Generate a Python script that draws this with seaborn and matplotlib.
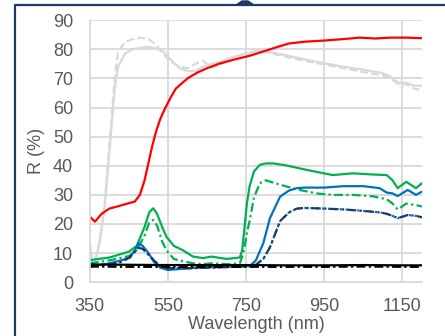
import matplotlib
matplotlib.use("Agg")
import numpy as np
import pandas as pd
import seaborn as sns
import matplotlib.pyplot as plt
from matplotlib.lines import Line2D
from matplotlib.patches import Polygon

# reflectance spectra
wl_gray = [350, 356, 365, 375, 388, 401, 414, 422, 440, 460, 480, 500, 520, 540, 560, 580, 600, 620,
           640, 650, 660, 680, 700, 720, 750, 780, 800, 850, 900, 950, 1000, 1050, 1100, 1120, 1140,
           1160, 1180, 1200]
gray_solid = [13, 7, 8, 14, 26, 46.5, 67, 74, 78.6, 80, 80.5, 80.8, 80.3, 79, 76, 73.5, 72.5, 72.5,
              74, 74.5, 75, 75.5, 76.5, 77.5, 78.5, 79.5, 79.3, 78, 76.5, 75.2, 74, 73, 71.8, 70.5, 68.5,
              68.5, 67.5, 67.5]
gray_dash = [13, 7, 8, 14, 27, 49, 71, 79, 82.5, 83.5, 84, 83.5, 81.5, 78, 75.5, 74, 73.5, 75,
             76, 75, 73.5, 74.5, 76, 77.5, 78.5, 79.5, 79, 77.5, 76, 74.8, 73.5, 72.2, 71, 70, 68,
             68, 66.5, 66]

wl_red = [350, 363, 380, 400, 420, 440, 465, 478, 490, 500, 510, 520, 530, 540, 555, 570,
          600, 625, 650, 680, 720, 760, 800, 830, 860, 900, 950, 1000, 1040, 1080, 1120, 1160, 1200]
red = [22.5, 20.8, 23.5, 25.3, 26, 26.8, 27.7, 30, 35, 41, 47, 52, 56, 59, 63, 66.5,
       70, 72, 73.5, 75, 76.5, 77.8, 79.5, 80.8, 82, 82.6, 83, 83.5, 84, 83.7, 84, 84, 83.8]

wl_green = [350, 400, 450, 470, 490, 502, 512, 522, 535, 546, 565, 588, 614, 640, 661, 700, 734, 740, 746,
            752, 759, 770, 785, 800, 820, 850, 887, 930, 972, 1023, 1074, 1110, 1125, 1138, 1160,
            1185, 1200]
green_solid = [7.6, 8.5, 10.5, 12.5, 19, 24, 25.4, 23.5, 19, 15.6, 12.5, 11, 8.8, 8.3, 8.8, 8, 8.5, 11, 19,
               27, 33, 38, 40.3, 40.8, 40.8, 40.2, 39.1, 37.9, 36.8, 37.4, 37, 36.8, 35, 32.3, 34.5,
               32.3, 34]
green_dashdot = [6.5, 7.5, 9, 11, 16, 20.5, 21.4, 19.5, 14, 11, 8, 7.2, 6.5, 6.2, 6.5, 6.2, 6.5, 8.8, 12,
                 17, 21, 29, 34, 35, 34.2, 33, 31.7, 30.5, 30, 30, 29.5, 28.5, 27, 25, 27,
                 26.5, 26]

wl_blue = [350, 400, 430, 452, 465, 474, 485, 500, 514, 530, 550, 600, 650, 700, 740, 759, 775, 794,
           811, 837, 860, 880, 900, 950, 1000, 1050, 1092, 1110, 1125, 1138, 1164, 1185, 1200]
blue_solid = [5.4, 6.5, 7.5, 8.5, 11, 13.4, 12.5, 10, 7, 5, 4.2, 4.8, 5.2, 5.4, 5.8, 5.5, 7.5, 13.4,
              22, 29.4, 31.5, 32.3, 32.5, 32.5, 33, 33, 32.3, 30.8, 30.5, 29.6, 31.7, 30, 31.1]
navy_dashdot = [5.5, 6, 7, 8.5, 10.5, 11.8, 11.5, 9.5, 7.5, 5.5, 4.8, 4.8, 5, 5.2, 5.4, 5.6, 6, 8,
                12, 21, 24, 25.3, 25.5, 25.3, 25, 24.5, 24, 23.5, 22.8, 22, 23.1, 22.8, 22.3]

wl_black = [350, 450, 550, 650, 750, 850, 950, 1050, 1150, 1200]
black_solid = [6.1, 6.0, 5.9, 5.9, 5.9, 5.8, 5.8, 5.9, 5.8, 5.8]
black_dashdot = [5.4, 5.3, 5.3, 5.2, 5.3, 5.3, 5.3, 5.4, 5.3, 5.3]

x_ticks = [350, 550, 750, 950, 1150]
y_ticks = list(range(0, 100, 10))

sns.set_style("white")
plt.rcParams['font.family'] = ['Liberation Sans', 'DejaVu Sans']

fig = plt.figure(figsize=(4.45, 3.36), dpi=100)
ax = fig.add_axes([0.202, 0.160, 0.746, 0.780])

lw = 1.6
dashdot = (0, (4, 1.5, 1, 1.5))
sns.lineplot(x=wl_gray, y=gray_solid, ax=ax, color='#D9D9D9', lw=lw)
sns.lineplot(x=wl_gray, y=gray_dash, ax=ax, color='#D9D9D9', lw=lw, linestyle=(0, (3.5, 1.5)))
sns.lineplot(x=wl_red, y=red, ax=ax, color='#FF0000', lw=lw)
sns.lineplot(x=wl_green, y=green_solid, ax=ax, color='#00B050', lw=lw)
sns.lineplot(x=wl_green, y=green_dashdot, ax=ax, color='#00B050', lw=lw, linestyle=dashdot)
sns.lineplot(x=wl_blue, y=blue_solid, ax=ax, color='#0070C0', lw=lw)
sns.lineplot(x=wl_blue, y=navy_dashdot, ax=ax, color='#0070C0', lw=lw, linestyle=':')
sns.lineplot(x=wl_blue, y=navy_dashdot, ax=ax, color='#1F3864', lw=lw, linestyle=dashdot)
sns.lineplot(x=wl_black, y=black_solid, ax=ax, color='black', lw=lw)
sns.lineplot(x=wl_black, y=black_dashdot, ax=ax, color='black', lw=lw, linestyle=dashdot)

ax.set_xlim(350, 1200)
ax.set_ylim(0, 90)
ax.set_xticks(x_ticks)
ax.set_yticks(y_ticks)
ax.grid(True, color='#D9D9D9', lw=1.3)
ax.set_axisbelow(True)
for s in ['top', 'right']:
    ax.spines[s].set_visible(False)
for s in ['left', 'bottom']:
    ax.spines[s].set_color('#D9D9D9')
    ax.spines[s].set_linewidth(1.3)
ax.tick_params(length=0, labelsize=13, colors='#595959')
ax.tick_params(axis='y', pad=12)
ax.tick_params(axis='x', pad=11)
ax.set_xlabel('Wavelength (nm)', fontsize=13, color='#595959', labelpad=1)
ax.set_ylabel('R (%)', fontsize=13, color='#595959', labelpad=6)

# navy frame around the chart with the little marker on top
W, H = 445.0, 336.0
fig.add_artist(Line2D([14.5 / W, 14.5 / W, 1.0], [0.0, 1 - 5 / H, 1 - 5 / H],
                      transform=fig.transFigure, color='#1F3864', lw=1.6))
fig.add_artist(Polygon([[236 / W, 1 - 5 / H], [242 / W, 1 - 1 / H], [248 / W, 1 - 1 / H], [254 / W, 1 - 5 / H]],
                       closed=True, transform=fig.transFigure, color='#1F3864'))

fig.savefig('out.png', dpi=100)
